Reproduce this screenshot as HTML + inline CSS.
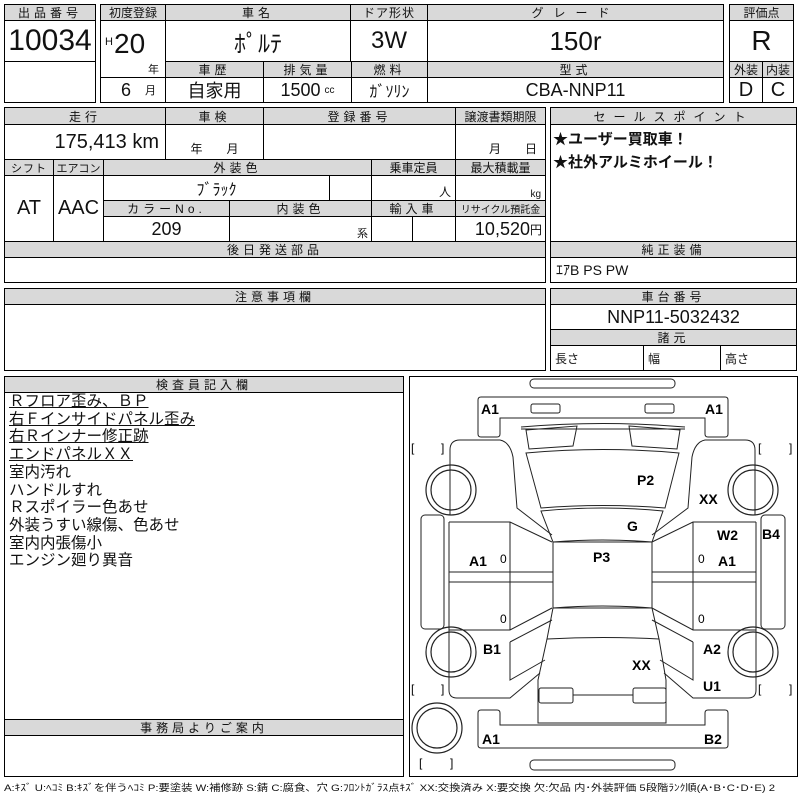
<!DOCTYPE html>
<html><head><meta charset="utf-8"><style>
body{margin:0;width:800px;height:800px;background:#fff;position:relative;overflow:hidden;font-family:"Liberation Sans","Noto Sans CJK JP",sans-serif;color:#111}
.c{position:absolute;box-sizing:border-box;border:1px solid #000;display:flex;align-items:center;justify-content:center;white-space:nowrap;background:#fff}
.h{background:#d9d9d9;font-size:12px;letter-spacing:4px}
.v{font-size:22px}
.t{position:absolute;white-space:nowrap}
</style></head><body>
<!-- block 1 -->
<div class="c h" style="left:4px;top:4px;width:92px;height:17px">出品番号</div>
<div class="c" style="left:4px;top:20px;width:92px;height:42px;font-size:30px">10034</div>
<div class="c" style="left:4px;top:61px;width:92px;height:42px"></div>
<!-- block 2 -->
<div class="c h" style="left:100px;top:4px;width:66px;height:17px;letter-spacing:0">初度登録</div>
<div class="c h" style="left:165px;top:4px;width:186px;height:17px">車名</div>
<div class="c h" style="left:350px;top:4px;width:78px;height:17px;letter-spacing:1px">ドア形状</div>
<div class="c h" style="left:427px;top:4px;width:297px;height:17px;letter-spacing:10px">グレード</div>
<div class="c" style="left:100px;top:20px;width:66px;height:58px"></div>
<div class="t" style="left:105px;top:36px;font-size:11px">H</div>
<div class="t" style="left:114px;top:28px;font-size:28px">20</div>
<div class="t" style="left:148px;top:61px;font-size:11px">年</div>
<div class="c" style="left:165px;top:20px;width:186px;height:42px;font-size:24px">ﾎﾟﾙﾃ</div>
<div class="c" style="left:350px;top:20px;width:78px;height:42px;font-size:24px">3W</div>
<div class="c" style="left:427px;top:20px;width:297px;height:42px;font-size:26px">150r</div>
<div class="c h" style="left:165px;top:61px;width:99px;height:17px">車歴</div>
<div class="c h" style="left:263px;top:61px;width:89px;height:17px">排気量</div>
<div class="c h" style="left:351px;top:61px;width:77px;height:17px">燃料</div>
<div class="c h" style="left:427px;top:61px;width:297px;height:17px">型式</div>
<div class="c" style="left:100px;top:77px;width:66px;height:26px;font-size:18px;justify-content:flex-start;padding-left:20px">6<span style="font-size:11px;margin-left:14px">月</span></div>
<div class="c" style="left:165px;top:77px;width:99px;height:26px;font-size:18px">自家用</div>
<div class="c" style="left:263px;top:77px;width:89px;height:26px;font-size:18px">1500<span style="font-size:10px;margin-left:4px">cc</span></div>
<div class="c" style="left:351px;top:77px;width:77px;height:26px;font-size:16px">ｶﾞｿﾘﾝ</div>
<div class="c" style="left:427px;top:77px;width:297px;height:26px;font-size:18px">CBA-NNP11</div>
<!-- block 3 -->
<div class="c h" style="left:729px;top:4px;width:65px;height:17px;letter-spacing:0">評価点</div>
<div class="c" style="left:729px;top:20px;width:65px;height:42px;font-size:28px">R</div>
<div class="c h" style="left:729px;top:61px;width:34px;height:17px;letter-spacing:0">外装</div>
<div class="c h" style="left:762px;top:61px;width:32px;height:17px;letter-spacing:0">内装</div>
<div class="c" style="left:729px;top:77px;width:34px;height:26px;font-size:20px">D</div>
<div class="c" style="left:762px;top:77px;width:32px;height:26px;font-size:20px">C</div>
<!-- block 4 -->
<div class="c h" style="left:4px;top:107px;width:162px;height:18px">走行</div>
<div class="c h" style="left:165px;top:107px;width:99px;height:18px">車検</div>
<div class="c h" style="left:263px;top:107px;width:193px;height:18px">登録番号</div>
<div class="c h" style="left:455px;top:107px;width:91px;height:18px;letter-spacing:0">譲渡書類期限</div>
<div class="c" style="left:4px;top:124px;width:162px;height:36px;font-size:20px;justify-content:flex-end;padding-right:6px">175,413 km</div>
<div class="c" style="left:165px;top:124px;width:99px;height:36px;font-size:12px;align-items:flex-end;padding-bottom:2px">年&emsp;&emsp;月</div>
<div class="c" style="left:263px;top:124px;width:193px;height:36px"></div>
<div class="c" style="left:455px;top:124px;width:91px;height:36px;font-size:12px;align-items:flex-end;padding-bottom:2px;justify-content:flex-end;padding-right:8px">月&emsp;&emsp;日</div>
<div class="c h" style="left:4px;top:159px;width:50px;height:17px;letter-spacing:1px;font-size:11px">シフト</div>
<div class="c h" style="left:53px;top:159px;width:51px;height:17px;letter-spacing:0;font-size:11px">エアコン</div>
<div class="c h" style="left:103px;top:159px;width:269px;height:17px">外装色</div>
<div class="c h" style="left:371px;top:159px;width:85px;height:17px;letter-spacing:0">乗車定員</div>
<div class="c h" style="left:455px;top:159px;width:91px;height:17px;letter-spacing:0">最大積載量</div>
<div class="c" style="left:4px;top:175px;width:50px;height:67px;font-size:20px">AT</div>
<div class="c" style="left:53px;top:175px;width:51px;height:67px;font-size:20px">AAC</div>
<div class="c" style="left:103px;top:175px;width:227px;height:26px;font-size:16px">ﾌﾞﾗｯｸ</div>
<div class="c" style="left:329px;top:175px;width:43px;height:26px"></div>
<div class="c" style="left:371px;top:175px;width:85px;height:26px;font-size:12px;justify-content:flex-end;padding-right:4px;align-items:flex-end">人</div>
<div class="c" style="left:455px;top:175px;width:91px;height:26px;font-size:10px;justify-content:flex-end;padding-right:4px;align-items:flex-end">kg</div>
<div class="c h" style="left:103px;top:200px;width:127px;height:17px">カラーNo.</div>
<div class="c h" style="left:229px;top:200px;width:143px;height:17px">内装色</div>
<div class="c h" style="left:371px;top:200px;width:85px;height:17px">輸入車</div>
<div class="c h" style="left:455px;top:200px;width:91px;height:17px;letter-spacing:0;font-size:10px">リサイクル預託金</div>
<div class="c" style="left:103px;top:216px;width:127px;height:26px;font-size:18px">209</div>
<div class="c" style="left:229px;top:216px;width:143px;height:26px;font-size:11px;justify-content:flex-end;padding-right:3px;align-items:flex-end">系</div>
<div class="c" style="left:371px;top:216px;width:42px;height:26px"></div>
<div class="c" style="left:412px;top:216px;width:44px;height:26px"></div>
<div class="c" style="left:455px;top:216px;width:91px;height:26px;font-size:18px;justify-content:flex-end;padding-right:3px">10,520<span style="font-size:12px">円</span></div>
<div class="c h" style="left:4px;top:241px;width:542px;height:17px">後日発送部品</div>
<div class="c" style="left:4px;top:257px;width:542px;height:26px"></div>
<!-- sales point -->
<div class="c h" style="left:550px;top:107px;width:247px;height:18px;letter-spacing:8px">セールスポイント</div>
<div class="c" style="left:550px;top:124px;width:247px;height:118px"></div>
<div class="t" style="left:553px;top:128px;font-size:15px;font-weight:bold;line-height:23px">★ユーザー買取車！<br>★社外アルミホイール！</div>
<div class="c h" style="left:550px;top:241px;width:247px;height:17px">純正装備</div>
<div class="c" style="left:550px;top:257px;width:247px;height:26px;font-size:14px;justify-content:flex-start;padding-left:5px">ｴｱB PS PW</div>
<!-- notes -->
<div class="c h" style="left:4px;top:288px;width:542px;height:17px">注意事項欄</div>
<div class="c" style="left:4px;top:304px;width:542px;height:67px"></div>
<div class="c h" style="left:550px;top:288px;width:247px;height:17px">車台番号</div>
<div class="c" style="left:550px;top:304px;width:247px;height:26px;font-size:18px">NNP11-5032432</div>
<div class="c h" style="left:550px;top:329px;width:247px;height:17px">諸元</div>
<div class="c" style="left:550px;top:345px;width:94px;height:26px;font-size:12px;justify-content:flex-start;padding-left:4px">長さ</div>
<div class="c" style="left:643px;top:345px;width:78px;height:26px;font-size:12px;justify-content:flex-start;padding-left:4px">幅</div>
<div class="c" style="left:720px;top:345px;width:77px;height:26px;font-size:12px;justify-content:flex-start;padding-left:4px">高さ</div>
<!-- inspector -->
<div class="c" style="left:4px;top:376px;width:400px;height:401px"></div>
<div class="c h" style="left:4px;top:376px;width:400px;height:17px">検査員記入欄</div>
<div class="t" style="left:9px;top:393px;font-size:15.5px;line-height:17.7px">
<u>Ｒフロア歪み、ＢＰ</u><br><u>右Ｆインサイドパネル歪み</u><br><u>右Ｒインナー修正跡</u><br><u>エンドパネルＸＸ</u><br>室内汚れ<br>ハンドルすれ<br>Ｒスポイラー色あせ<br>外装うすい線傷、色あせ<br>室内内張傷小<br>エンジン廻り異音</div>
<div class="c h" style="left:4px;top:719px;width:400px;height:17px">事務局よりご案内</div>
<!-- diagram -->
<div class="c" style="left:409px;top:376px;width:389px;height:401px"></div>
<svg style="position:absolute;left:0;top:0" width="800" height="800" fill="none" stroke="#222" stroke-width="1">
<rect x="530" y="379" width="145" height="9" rx="4"/>
<rect x="530" y="760" width="145" height="10" rx="4"/>
<path d="M481 397H725Q728 397 728 400V434Q728 437 725 437H708Q705 437 705 434V418H500V434Q500 437 497 437H481Q478 437 478 434V400Q478 397 481 397Z"/>
<rect x="531" y="404" width="29" height="9" rx="2"/><rect x="645" y="404" width="29" height="9" rx="2"/>
<path d="M481 748H725Q728 748 728 745V713Q728 710 725 710H708Q705 710 705 713V725H500V713Q500 710 497 710H481Q478 710 478 713V745Q478 748 481 748Z"/>
<path d="M521 427Q603 420 685 427M521 429L685 429"/>
<path d="M526 430L577 426L573 446L529 449Z M629 426L680 430L677 449L632 446Z"/>
<path d="M526 453Q603 446 679 453L665 508Q603 503 541 508Z"/>
<path d="M541 511Q603 505 663 511L652 542Q603 538 553 542Z"/>
<rect x="553" y="542" width="99" height="66"/>
<path d="M553 608Q603 604 652 608L659 639Q603 636 547 639Z"/>
<path d="M547 639L538 680V723H666V680L659 639"/>
<rect x="539" y="688" width="34" height="15" rx="2"/><rect x="633" y="688" width="33" height="15" rx="2"/>
<path d="M573 695H633M538 703V723"/>
<!-- left side -->
<path d="M450 515V450Q450 440 460 440H500Q510 442 513 457L517 508L552 535"/>
<rect x="421" y="515" width="23" height="114" rx="4"/>
<path d="M449 522H510L552 542M449 522V630H510L552 608M510 522V630M449 572H553M449 582H553"/>
<path d="M449 630V690Q449 698 457 698H510L540 673M510 642L552 620M510 642V680L545 660"/>
<!-- right side -->
<path d="M755 515V450Q755 440 745 440H705Q695 442 692 457L688 508L652 535"/>
<rect x="761" y="515" width="24" height="114" rx="4"/>
<path d="M756 522H693L652 542M756 522V630H693L652 608M693 522V630M652 572H756M652 582H756"/>
<path d="M756 630V690Q756 698 748 698H693L664 673M693 642L652 620M693 642V680L660 660"/>
<g stroke-width="1.2">
<circle cx="451" cy="490" r="25"/><circle cx="451" cy="490" r="20"/>
<circle cx="753" cy="490" r="25"/><circle cx="753" cy="490" r="20"/>
<circle cx="451" cy="652" r="25"/><circle cx="451" cy="652" r="20"/>
<circle cx="753" cy="652" r="25"/><circle cx="753" cy="652" r="20"/>
<circle cx="437" cy="728" r="25"/><circle cx="437" cy="728" r="20"/>
</g>
<g font-family="Liberation Sans, sans-serif" font-size="14" fill="#000" stroke="none" font-weight="bold">
<text x="481" y="414">A1</text><text x="705" y="414">A1</text>
<text x="637" y="485">P2</text><text x="699" y="504">XX</text>
<text x="627" y="531">G</text><text x="717" y="540">W2</text><text x="762" y="539">B4</text>
<text x="469" y="566">A1</text><text x="593" y="562">P3</text><text x="718" y="566">A1</text>
<text x="483" y="654">B1</text><text x="703" y="654">A2</text>
<text x="632" y="670">XX</text><text x="703" y="691">U1</text>
<text x="482" y="744">A1</text><text x="704" y="744">B2</text>
</g>
<g font-family="Liberation Sans, sans-serif" font-size="12" fill="#000" stroke="none">
<text x="500" y="563">0</text><text x="698" y="563">0</text>
<text x="500" y="623">0</text><text x="698" y="623">0</text>
<text x="411" y="452">[</text><text x="441" y="452">]</text>
<text x="758" y="452">[</text><text x="789" y="452">]</text>
<text x="411" y="693">[</text><text x="441" y="693">]</text>
<text x="758" y="693">[</text><text x="789" y="693">]</text>
<text x="419" y="767">[</text><text x="450" y="767">]</text>
</g>
</svg>
<div class="t" style="left:4px;top:780px;font-size:9.5px;letter-spacing:0;transform:scaleX(1.19);transform-origin:0 0">A:ｷｽﾞ U:ﾍｺﾐ B:ｷｽﾞを伴うﾍｺﾐ P:要塗装 W:補修跡 S:錆 C:腐食、穴 G:ﾌﾛﾝﾄｶﾞﾗｽ点ｷｽﾞ XX:交換済み X:要交換 欠:欠品 内･外装評価 5段階ﾗﾝｸ順(A･B･C･D･E) 2</div>
</body></html>
